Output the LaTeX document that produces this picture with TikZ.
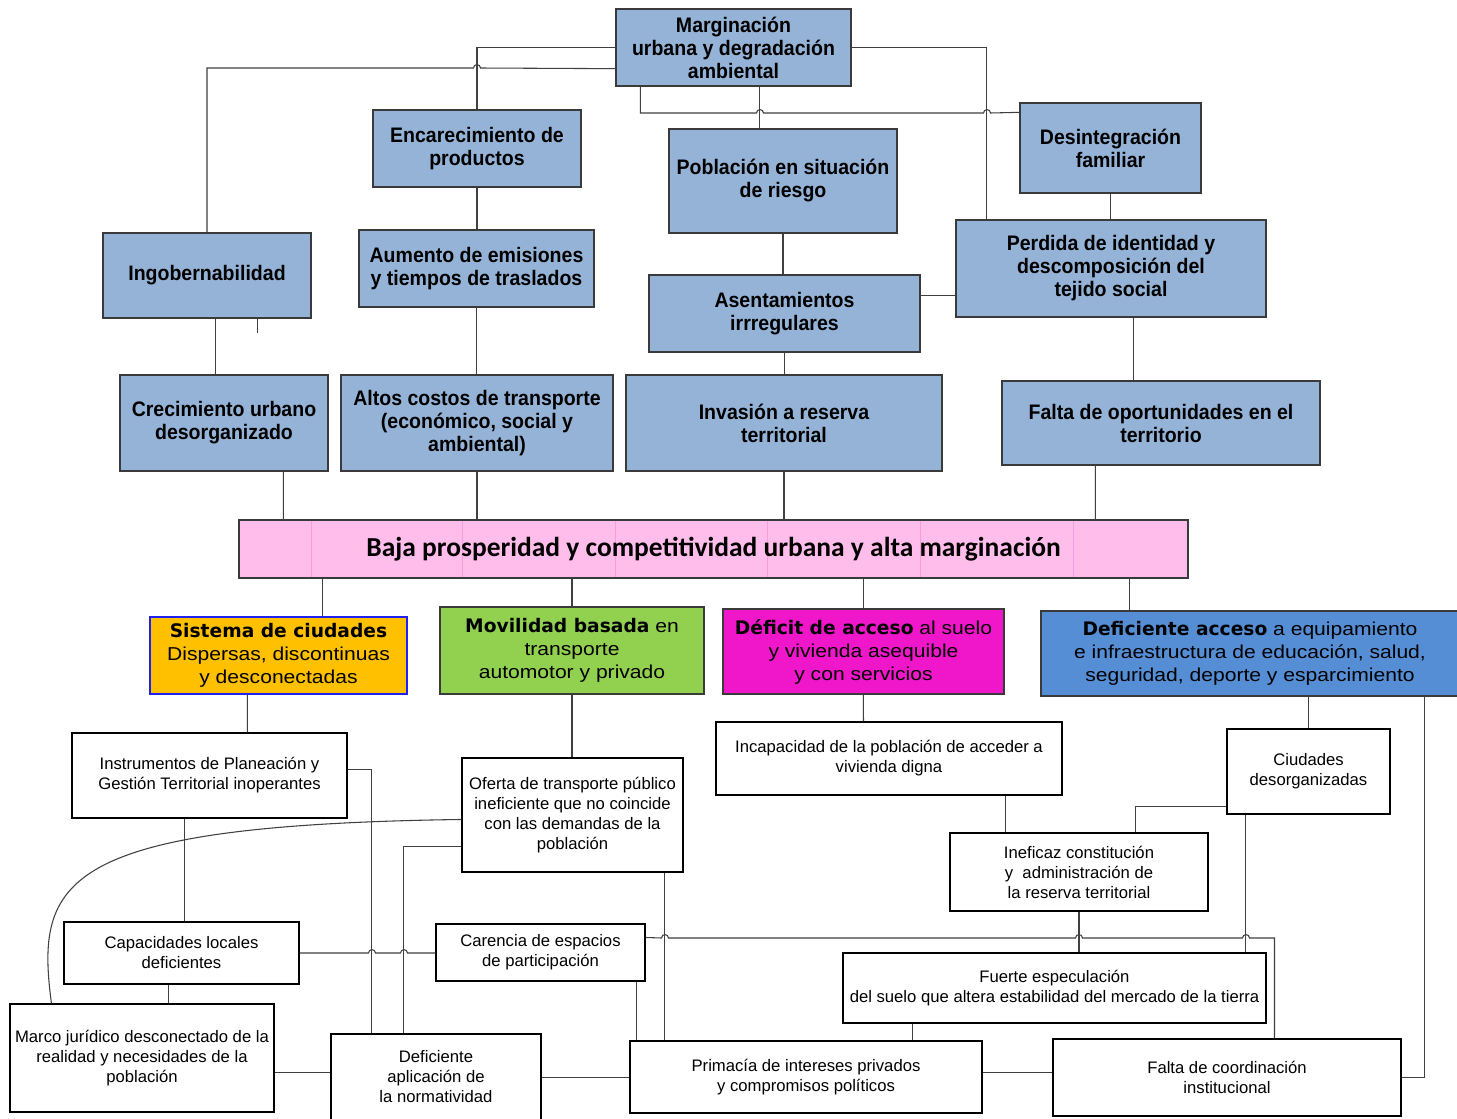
\documentclass[tikz,border=0pt]{standalone}
\usepackage{fontspec}
\setmainfont{Liberation Sans}
\newfontfamily\bluefont[FakeStretch=0.93]{Liberation Sans}
\newfontfamily\colfont[FakeStretch=1.13]{Liberation Sans}
\newfontfamily\colbold{DejaVu Sans}
\newfontfamily\pinkfont{Carlito}
\usetikzlibrary{calc}
\definecolor{blueF}{HTML}{95B3D7}
\definecolor{edgeC}{HTML}{3A3A3A}
\definecolor{lineC}{HTML}{404040}
\definecolor{pinkF}{HTML}{FFBDEB}
\definecolor{pinkL}{HTML}{F79EDD}
\definecolor{orangeF}{HTML}{FFC000}
\definecolor{orangeD}{HTML}{2020F0}
\definecolor{greenF}{HTML}{92D050}
\definecolor{magF}{HTML}{EF17C9}
\definecolor{deepBlue}{HTML}{558ED5}
\newcommand\B[1]{{\colbold\bfseries #1}}
\tikzset{
  bx/.style n args={4}{minimum width={(#3-#1)*0.75pt}, minimum height={(#4-#2)*0.75pt}, at={(#1/2+#3/2,#2/2+#4/2)}},
  base/.style={draw, rectangle, inner sep=0pt, align=center},
  bluebox/.style={base, fill=blueF, draw=edgeC, line width=1pt, font=\bluefont\bfseries\fontsize{15.75}{17.25}\selectfont},
  colbox/.style={base, draw=edgeC, line width=0.9pt, font=\colfont\fontsize{14}{17.25}\selectfont},
  pinkbox/.style={base, fill=pinkF, draw=edgeC, line width=0.9pt},
  wbox/.style={base, fill=white, draw=black, line width=0.8pt, font=\fontsize{12.5}{15}\selectfont},
  conn/.style={draw=lineC, line width=0.8pt},
  gridln/.style={draw=pinkL, line width=0.6pt},
}
\begin{document}
\begin{tikzpicture}[x=0.75pt,y=-0.75pt]
\useasboundingbox (0,0) rectangle (1457,1118);
\fill[white] (0,0) rectangle (1457,1118);
% ---------- blue cause boxes ----------
\node[bluebox, bx={616}{9}{851}{86}] (marg) {Marginación\\urbana y degradación\\ambiental};
\node[bluebox, bx={373}{110}{581}{187}] (enc) {Encarecimiento de\\productos};
\node[bluebox, bx={669}{129}{897}{233}] (pob) {Población en situación\\de riesgo};
\node[bluebox, bx={1020}{103}{1201}{193}] (des) {Desintegración\\familiar};
\node[bluebox, bx={103}{233}{311}{318}] (ingo) {Ingobernabilidad};
\node[bluebox, bx={359}{230}{594}{307}] (aum) {Aumento de emisiones\\y tiempos de traslados};
\node[bluebox, bx={956}{220}{1266}{317}] (perd) {Perdida de identidad y\\descomposición del\\tejido social};
\node[bluebox, bx={649}{275}{920}{352}] (asen) {Asentamientos\\irrregulares};
\node[bluebox, bx={120}{375}{328}{471}] (crec) {Crecimiento urbano\\desorganizado};
\node[bluebox, bx={341}{375}{613}{471}] (altos) {Altos costos de transporte\\(económico, social y\\ambiental)};
\node[bluebox, bx={626}{375}{942}{471}] (inv) {Invasión a reserva\\territorial};
\node[bluebox, bx={1002}{381}{1320}{465}] (falta) {Falta de oportunidades en el\\territorio};
% ---------- central problem ----------
\node[pinkbox, bx={239}{520}{1188}{578}] (baja) {};
\foreach \gx in {311,462,615,767,920,1073}
  \draw[gridln] (\gx,520.7) -- (\gx,577.3);
\node[font=\pinkfont\bfseries\fontsize{20.6}{24}\selectfont] (bajatxt) at (baja.center) {Baja prosperidad y competitividad urbana y alta marginación};
% ---------- coloured effect boxes ----------
\node[colbox, fill=orangeF, draw=orangeD, bx={150}{617}{407}{694}] (sist) {\B{Sistema de ciudades}\\Dispersas, discontinuas\\y desconectadas};
\node[colbox, fill=greenF, bx={440}{607}{704}{694}] (movi) {\B{Movilidad basada} en\\transporte\\automotor y privado};
\node[colbox, fill=magF, bx={723}{609}{1004}{694}] (defi) {\B{Déficit de acceso} al suelo\\y vivienda asequible\\y con servicios};
\node[colbox, fill=deepBlue, bx={1041}{611}{1459}{696}] (defe) {\B{Deficiente acceso} a equipamiento\\e infraestructura de educación, salud,\\seguridad, deporte y esparcimiento};
% ---------- white boxes ----------
\node[wbox, bx={72}{733}{347}{818}] (instr) {Instrumentos de Planeación y\\Gestión Territorial inoperantes};
\node[wbox, bx={462}{758}{683}{872}] (ofer) {Oferta de transporte público\\ineficiente que no coincide\\con las demandas de la\\población};
\node[wbox, bx={716}{722}{1062}{795}] (incap) {Incapacidad de la población de acceder a\\vivienda digna};
\node[wbox, bx={1227}{729}{1390}{814}] (ciud) {Ciudades\\desorganizadas};
\node[wbox, bx={950}{833}{1208}{911}] (inef) {Ineficaz constitución\\y~ administración de\\la reserva territorial};
\node[wbox, bx={64}{922}{299}{984}] (capac) {Capacidades locales\\deficientes};
\node[wbox, bx={436}{924}{645}{981}] (caren) {Carencia de espacios\\de participación};
\node[wbox, bx={843}{953}{1266}{1023}] (fuerte) {Fuerte especulación\\del suelo que altera estabilidad del mercado de la tierra};
\node[wbox, bx={10}{1004}{274}{1112}] (marco) {Marco jurídico desconectado de la\\realidad y necesidades de la\\población};
\node[wbox, bx={331}{1034}{541}{1120}] (defap) {Deficiente\\aplicación de\\la normatividad};
\node[wbox, bx={630}{1041}{982}{1113}] (prim) {Primacía de intereses privados\\y compromisos políticos};
\node[wbox, bx={1053}{1039}{1401}{1116}] (fcoord) {Falta de coordinación\\institucional};
% ---------- connectors: top ----------
\draw[conn] (marg.west) -| (enc.north);
\draw[conn] ($(marg.south west)+(0,-18)$) -- (480.5,68) .. controls (480.5,63.5) and (473.5,63.5) .. (473.5,68) -| (ingo.north);
\draw[conn] (marg.east) -| ($(perd.north west)+(31,0)$);
\draw[conn] ($(marg.south west)+(25,0)$) |- (756.5,113) .. controls (756.5,108.5) and (763.5,108.5) .. (763.5,113) -- (983.5,113) .. controls (983.5,108.5) and (990.5,108.5) .. (990.5,113) -- ($(des.north west)+(0,10)$);
\draw[conn] ($(marg.south west)+(144,0)$) -- ($(pob.north west)+(91,0)$);
\draw[conn] (enc.south) -- (enc.south |- aum.north);
\draw[conn] (aum.south) -- (aum.south |- altos.north);
\draw[conn] ($(ingo.south west)+(113,0)$) -- ($(crec.north west)+(96,0)$);
\coordinate (stubend) at ($(ingo.south west)+(155,14)$);
\draw[conn] ($(ingo.south west)+(155,0)$) -- (stubend);
\draw[conn] (pob.south) -- (pob.south |- asen.north);
\draw[conn] ($(asen.north east)+(0,21)$) -- ($(perd.north west)+(0,76)$);
\draw[conn] (des.south) -- (des.south |- perd.north);
\draw[conn] (asen.south) -- (asen.south |- inv.north);
\draw[conn] ($(perd.south west)+(178,0)$) -- ($(falta.north west)+(132,0)$);
% ---------- connectors: to / from central problem ----------
\draw[conn] ($(crec.south west)+(164,0)$) -- ($(baja.north west)+(45,0)$);
\draw[conn] (altos.south) -- (altos.south |- baja.north);
\draw[conn] (inv.south) -- (inv.south |- baja.north);
\draw[conn] ($(falta.south west)+(94,0)$) -- ($(baja.north west)+(857,0)$);
\draw[conn] ($(baja.south west)+(84,0)$) -- ($(sist.north west)+(173,0)$);
\draw[conn] (movi.north) -- (movi.north |- baja.south);
\draw[conn] (defi.north) -- (defi.north |- baja.south);
\draw[conn] ($(baja.south west)+(891,0)$) -- ($(defe.north west)+(89,0)$);
% ---------- connectors: lower ----------
\draw[conn] ($(sist.south west)+(98,0)$) -- ($(instr.north west)+(176,0)$);
\draw[conn] (movi.south) -- (movi.south |- ofer.north);
\draw[conn] ($(defi.south west)+(141,0)$) -- ($(incap.north west)+(148,0)$);
\draw[conn] (ciud.north) -- (ciud.north |- defe.south);
\draw[conn] (fcoord.east) -| ($(defe.south west)+(384,0)$);
\draw[conn] ($(incap.south west)+(290,0)$) -- ($(inef.north west)+(56,0)$);
\draw[conn] ($(ciud.south west)+(0,-8)$) -| ($(inef.north west)+(186,0)$);
\draw[conn] (inef.south) -- (inef.south |- fuerte.north);
\draw[conn] ($(ciud.south west)+(19,0)$) -- ($(fuerte.north west)+(403,0)$);
\draw[conn] ($(instr.south west)+(113,0)$) -- ($(capac.north west)+(121,0)$);
\draw[conn] ($(instr.north east)+(0,37)$) -| ($(defap.north west)+(41,0)$);
\draw[conn] ($(ofer.north west)+(0,62)$) .. controls (60,825) and (35,880) .. ($(marco.north west)+(42,0)$);
\draw[conn] ($(ofer.north west)+(0,89)$) -| ($(defap.north west)+(73,0)$);
\draw[conn] ($(ofer.south west)+(203,0)$) -- ($(prim.north west)+(35,0)$);
\draw[conn] (capac.east) -- (368.5,953) .. controls (368.5,948.5) and (375.5,948.5) .. (375.5,953) -- (400.5,953) .. controls (400.5,948.5) and (407.5,948.5) .. (407.5,953) -- (caren.west |- capac.east);
\draw[conn] ($(capac.south west)+(105,0)$) -- ($(marco.north west)+(159,0)$);
\draw[conn] ($(marco.north east)+(0,69)$) -- ($(defap.north west)+(0,39)$);
\draw[conn] ($(defap.north east)+(0,44)$) -- ($(prim.north west)+(0,37)$);
\draw[conn] ($(caren.north east)+(0,14)$) -- (661.5,938) .. controls (661.5,933.5) and (668.5,933.5) .. (668.5,938) -- (1075.5,938) .. controls (1075.5,933.5) and (1082.5,933.5) .. (1082.5,938) -- (1242.5,938) .. controls (1242.5,933.5) and (1249.5,933.5) .. (1249.5,938) -| ($(fcoord.north west)+(222,0)$);
\draw[conn] ($(caren.south west)+(201,0)$) -- ($(prim.north west)+(7,0)$);
\draw[conn] ($(fuerte.south west)+(70,0)$) -- ($(prim.north west)+(283,0)$);
\draw[conn] ($(prim.north east)+(0,32)$) -- ($(fcoord.north west)+(0,34)$);
\end{tikzpicture}
\end{document}
